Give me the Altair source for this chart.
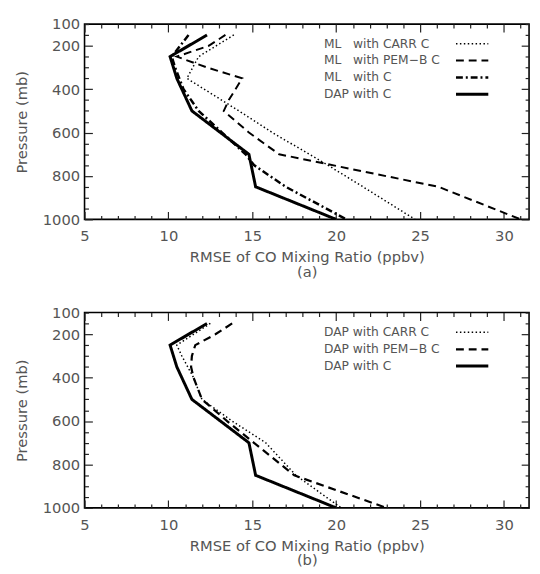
import altair as alt
import pandas as pd

FONT = "DejaVu Sans"
TXT = "#555555"

# ---------------- data ----------------
# panel (a)
a_carr_p = [150, 250, 350, 500, 600, 700, 750, 850, 1000]
a_carr_x = [13.9, 11.8, 11.1, 14.2, 16.2, 18.4, 19.5, 21.6, 24.7]
a_pemb_p = [150, 200, 250, 300, 350, 400, 450, 500, 600, 700, 850, 1000]
a_pemb_x = [13.4, 12.4, 10.5, 12.3, 14.4, 14.0, 13.6, 13.3, 14.8, 16.6, 26.1, 31.0]
a_mlc_p = [150, 250, 300, 400, 500, 600, 700, 750, 850, 1000]
a_mlc_x = [11.2, 10.2, 10.4, 10.9, 11.8, 13.2, 14.6, 15.1, 17.0, 20.6]
# DAP with C (same curve in both panels)
dap_p = [150, 250, 350, 500, 700, 850, 1000]
dap_x = [12.3, 10.1, 10.5, 11.4, 14.8, 15.2, 20.0]
# panel (b)
b_carr_p = [150, 250, 300, 400, 500, 600, 700, 850, 1000]
b_carr_x = [12.5, 10.5, 10.8, 11.5, 12.0, 13.8, 15.8, 17.6, 20.3]
b_pemb_p = [150, 200, 250, 300, 350, 400, 500, 600, 700, 850, 1000]
b_pemb_x = [13.8, 12.8, 11.6, 11.4, 11.35, 11.5, 12.0, 13.5, 15.1, 17.5, 23.0]

NB = "\u00a0"
a_names = ["ML" + NB * 3 + "with CARR C", "ML" + NB * 3 + "with PEM\u2212B C",
           "ML" + NB * 3 + "with C", "DAP with C"]
b_names = ["DAP with CARR C", "DAP with PEM\u2212B C", "DAP with C"]

x_major = [5, 10, 15, 20, 25, 30]
x_minor = list(range(5, 32))
y_major = [100, 200, 400, 600, 800, 1000]
y_minor = list(range(100, 1001, 50))

X_DOMAIN = [5, 31.5]
Y_DOMAIN = [100, 1000]
W, H = 453, 199

DOT = [1.5, 2.5]
DASH = [8, 5]
DASHDOT = [7, 3, 2, 3]
SOLID = [1, 0]


def frame(names, xs, ps):
    rows = []
    for n, xv, pv in zip(names, xs, ps):
        for a, b in zip(xv, pv):
            rows.append({"series": n, "x": a, "p": b})
    return pd.DataFrame(rows)


def panel(df, names, dashes, widths, label):
    xs = alt.Scale(domain=X_DOMAIN, nice=False, zero=False)
    ys = alt.Scale(domain=Y_DOMAIN, nice=False, zero=False, reverse=True)
    base = alt.Chart(df)
    leg = alt.Legend(
        orient="none", legendX=384.5, legendY=10, title=None,
        symbolType="M-1.83,0H1.83", symbolSize=324, symbolStrokeColor="black",
        symbolFillColor="transparent",
        labelOffset={"expr": "-161.5"}, labelAlign="left", labelFont=FONT, labelFontSize=12.5,
        labelColor=TXT, rowPadding=0, padding=0, labelLimit=400,
    )
    lines = base.mark_line(color="black", clip=True).encode(
        x=alt.X("x:Q", scale=xs, axis=alt.Axis(
            orient="bottom", values=x_major, ticks=False, tickSize=0, domain=False,
            grid=False, labelFlush=False, labelOverlap=False, labelPadding=10, format="d",
            title=["RMSE of CO Mixing Ratio (ppbv)", label], titlePadding=6,
            titleLineHeight=15)),
        y=alt.Y("p:Q", scale=ys, axis=alt.Axis(
            orient="left", values=y_major, ticks=False, tickSize=0, domain=False,
            grid=False, labelOverlap=False, labelPadding=5, format="d",
            title="Pressure (mb)", titlePadding=13)),
        order=alt.Order("p:Q"),
        strokeDash=alt.StrokeDash("series:N", scale=alt.Scale(domain=names, range=dashes), legend=leg),
        strokeWidth=alt.StrokeWidth("series:N", scale=alt.Scale(domain=names, range=widths), legend=leg),
    )
    tx = {"condition": {"test": "datum.value % 5 === 0", "value": 8}, "value": 4}
    ty = {"condition": {"test": "datum.value % 200 === 0", "value": 8}, "value": 4}

    def ticks_layer(xo, yo):
        return base.mark_line(opacity=0).encode(
            x=alt.X("x:Q", scale=xs, axis=alt.Axis(
                orient=xo, offset={"expr": str(-H)}, values=x_minor, labels=False, domain=False,
                grid=False, title=None, tickColor="#222", tickWidth=1.2, tickSize=tx)),
            y=alt.Y("p:Q", scale=ys, axis=alt.Axis(
                orient=yo, offset={"expr": str(-W)}, values=y_minor, labels=False, domain=False,
                grid=False, title=None, tickColor="#222", tickWidth=1.2, tickSize=ty)),
            order=alt.Order("p:Q"),
        )

    return alt.layer(lines, ticks_layer("top", "right"), ticks_layer("bottom", "left")).resolve_scale(
        x="independent", y="independent"
    ).resolve_axis(x="independent", y="independent").properties(width=W, height=H)


df_a = frame(a_names, [a_carr_x, a_pemb_x, a_mlc_x, dap_x], [a_carr_p, a_pemb_p, a_mlc_p, dap_p])
df_b = frame(b_names, [b_carr_x, b_pemb_x, dap_x], [b_carr_p, b_pemb_p, dap_p])

pa = panel(df_a, a_names, [DOT, DASH, DASHDOT, SOLID], [1.5, 3, 3, 3], "(a)")
pb = panel(df_b, b_names, [DOT, DASH, SOLID], [1.5, 3, 3], "(b)")

chart = alt.vconcat(pa, pb, spacing=25).resolve_scale(
    strokeDash="independent", strokeWidth="independent"
).resolve_legend(strokeDash="independent", strokeWidth="independent").properties(
    padding={"left": 6, "top": 3, "right": 1, "bottom": 0}, background="white"
).configure_view(stroke="black", strokeWidth=1.6).configure_axis(
    labelFont=FONT, labelFontSize=15, labelColor=TXT,
    titleFont=FONT, titleFontSize=15, titleColor=TXT, titleFontWeight="normal",
)

chart.save("out.html", embed_options={"renderer": "svg", "actions": False})
